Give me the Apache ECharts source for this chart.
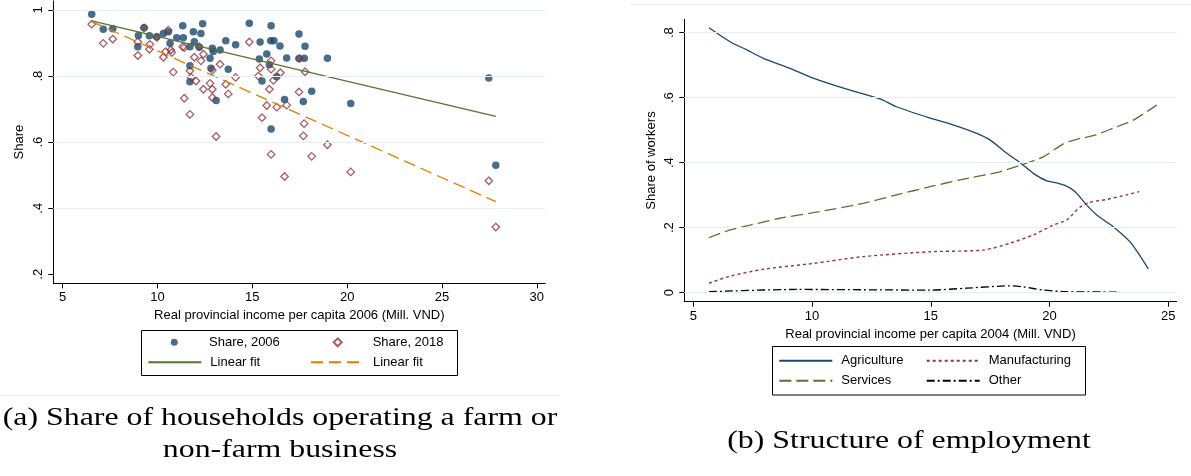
<!DOCTYPE html>
<html>
<head>
<meta charset="utf-8">
<script src="https://cdn.jsdelivr.net/npm/echarts@6/dist/echarts.min.js"></script>
<style>
  html, body { margin: 0; padding: 0; background: #fff; }
  #chart { width: 1191px; height: 476px; }
</style>
</head>
<body>
<div id="chart"></div>
<script>
// ---- Panel (a): share of households operating a farm or non-farm business ----
// [real provincial income per capita 2006 (Mill. VND), share]
const share2006 = [
  [6.53,0.987],[7.14,0.942],[7.64,0.943],[8.99,0.923],[8.96,0.889],[9.29,0.946],[9.57,0.922],
  [9.96,0.919],[10.31,0.929],[10.57,0.934],[10.66,0.899],[11.01,0.916],[11.33,0.952],[11.36,0.916],
  [11.89,0.934],[11.94,0.904],[12.29,0.929],[12.38,0.958],[11.71,0.889],[12.20,0.887],[12.89,0.884],
  [12.94,0.874],[13.30,0.879],[13.60,0.907],[14.12,0.895],[11.71,0.831],[11.71,0.783],[12.77,0.854],
  [12.82,0.824],[13.09,0.726],[13.73,0.821],[14.84,0.960],[15.41,0.903],[15.99,0.952],[15.97,0.907],
  [16.14,0.907],[15.76,0.867],[15.37,0.852],[15.90,0.834],[16.46,0.891],[16.81,0.855],[16.70,0.729],
  [15.51,0.785],[15.99,0.640],[16.28,0.798],[17.46,0.927],[17.46,0.853],[17.78,0.890],[17.74,0.854],
  [18.96,0.854],[18.13,0.754],[17.69,0.723],[20.19,0.717],[27.47,0.794],[27.84,0.530]
];
const share2018 = [
  [6.53,0.957],[7.14,0.899],[7.64,0.912],[8.96,0.904],[8.96,0.862],[9.29,0.946],[9.60,0.896],
  [9.57,0.881],[9.96,0.917],[10.31,0.857],[10.43,0.874],[10.57,0.939],[10.70,0.879],[10.75,0.871],
  [10.83,0.812],[11.33,0.889],[11.41,0.886],[11.41,0.733],[11.71,0.684],[11.71,0.816],[11.77,0.796],
  [11.94,0.857],[12.03,0.785],[12.20,0.889],[12.29,0.846],[12.42,0.866],[12.42,0.760],[12.77,0.778],
  [12.89,0.760],[12.89,0.735],[12.89,0.818],[13.09,0.617],[13.30,0.836],[13.60,0.775],[13.73,0.746],
  [14.12,0.796],[14.84,0.903],[15.41,0.825],[15.32,0.800],[15.51,0.674],[15.76,0.711],[15.90,0.760],
  [15.99,0.846],[15.99,0.821],[16.11,0.787],[16.48,0.810],[15.99,0.563],[16.70,0.496],[16.81,0.712],
  [16.29,0.706],[17.48,0.853],[17.78,0.813],[17.46,0.752],[17.73,0.656],[17.69,0.619],[18.96,0.592],
  [18.13,0.557],[20.19,0.510],[27.47,0.483],[27.84,0.343]
];
// fitted lines, end points
const fit2006 = [[6.53,0.967],[27.84,0.678]];
const fit2018 = [[6.53,0.965],[27.84,0.420]];

const incomeTicksA = [5,10,15,20,25,30];
const shareTicksA = [0.2,0.4,0.6,0.8,1];
const shareLabelsA = ['.2','.4','.6','.8','1'];
const gridLinesA = [0.4,0.6,0.8,1];

// ---- Panel (b): structure of employment ----
// [real provincial income per capita 2004 (Mill. VND), share of workers]
const agriculture = [
  [5.66,0.815],[6.55,0.772],[7.25,0.747],[7.95,0.721],[9.07,0.690],[10.05,0.660],[11.46,0.626],
  [12.86,0.596],[13.56,0.572],[14.97,0.537],[15.81,0.519],[16.93,0.490],[17.49,0.470],[18.20,0.429],
  [18.83,0.396],[19.32,0.367],[19.88,0.344],[20.30,0.338],[20.72,0.328],[21.07,0.311],[21.56,0.270],
  [21.99,0.239],[22.68,0.203],[23.38,0.157],[23.74,0.121],[24.16,0.073]
];
const services = [
  [5.66,0.169],[6.55,0.193],[7.39,0.208],[8.65,0.229],[10.05,0.246],[12.16,0.275],[13.56,0.301],
  [14.97,0.326],[16.23,0.347],[17.91,0.372],[18.89,0.395],[19.74,0.418],[20.58,0.458],[21.14,0.472],
  [21.84,0.483],[22.68,0.506],[23.53,0.531],[24.51,0.577]
];
const manufacturing = [
  [5.66,0.029],[6.55,0.051],[7.95,0.072],[10.05,0.090],[12.16,0.111],[14.97,0.126],[17.21,0.131],
  [18.33,0.152],[19.32,0.178],[20.16,0.208],[20.72,0.224],[21.28,0.263],[21.70,0.278],[22.41,0.287],
  [23.25,0.301],[23.78,0.311]
];
const other = [
  [5.66,0.003],[9.35,0.010],[14.97,0.008],[16.51,0.014],[18.33,0.021],[18.89,0.018],[19.74,0.008],
  [20.72,0.003],[22.96,0.002]
];

const incomeTicksB = [5,10,15,20,25];
const shareTicksB = [0,0.2,0.4,0.6,0.8];
const shareLabelsB = ['0','.2','.4','.6','.8'];
const gridLinesB = [0,0.2,0.4,0.6,0.8];

const SANS = 'Liberation Sans, Arial, sans-serif';
const SERIF = 'Liberation Serif, Times New Roman, serif';
const NAVY = '#1a476f', MAROON = '#90353b', GREEN = '#55752f', ORANGE = '#e37e00';
const GRID_COLOR = '#e6eeef';

function xAxisCfg(gridIndex, min, max, ticks, name) {
  return {
    type: 'value', gridIndex, min, max,
    axisLine: { show: true, onZero: false, lineStyle: { color: '#000', width: 1 } },
    axisTick: { show: true, length: 5, customValues: ticks, lineStyle: { color: '#000', width: 1 } },
    axisLabel: { customValues: ticks, fontSize: 13, color: '#000', fontFamily: SANS, margin: 8 },
    splitLine: { show: false },
    name, nameLocation: 'middle', nameGap: 23,
    nameTextStyle: { fontSize: 13, color: '#000', fontFamily: SANS }
  };
}
function yAxisCfg(gridIndex, min, max, ticks, labels, name, nameGap) {
  return {
    type: 'value', gridIndex, min, max,
    axisLine: { show: true, onZero: false, lineStyle: { color: '#000', width: 1 } },
    axisTick: { show: true, length: 5, customValues: ticks, lineStyle: { color: '#000', width: 1 } },
    axisLabel: {
      customValues: ticks, rotate: 90, fontSize: 13, color: '#000', fontFamily: SANS, margin: 8,
      formatter: v => { const i = ticks.findIndex(t => Math.abs(t - v) < 1e-9); return i >= 0 ? labels[i] : ''; }
    },
    splitLine: { show: false },
    name, nameLocation: 'middle', nameGap,
    nameTextStyle: { fontSize: 13, color: '#000', fontFamily: SANS }
  };
}
function gridSeries(xi, yi, values) {
  return {
    type: 'line', xAxisIndex: xi, yAxisIndex: yi, data: [], silent: true, z: 1,
    markLine: {
      silent: true, symbol: ['none', 'none'], label: { show: false },
      lineStyle: { color: GRID_COLOR, type: 'solid', width: 1.2 },
      data: values.map(v => ({ yAxis: v }))
    }
  };
}
function lineSeries(name, xi, yi, data, color, type, width) {
  return {
    name, type: 'line', xAxisIndex: xi, yAxisIndex: yi, data,
    showSymbol: false, symbol: 'none', smooth: 0.25, z: 4,
    lineStyle: { color, type, width }, itemStyle: { color }
  };
}
const legendText = { fontSize: 13, color: '#000', fontFamily: SANS };
// one legend entry per slot so that the 2 x 2 layout lines up in columns
function lineLegend(name, left, rowCenter) {
  return {
    data: [name], left, top: rowCenter - 7.5, padding: 0, selectedMode: false,
    itemWidth: 53, itemHeight: 14, itemStyle: { opacity: 0, borderWidth: 0 },
    formatter: n => n.indexOf('Linear fit') === 0 ? 'Linear fit' : n,
    textStyle: Object.assign({ padding: [0, 0, 0, 4] }, legendText)
  };
}
function markerLegend(name, icon, size, iconCenter, textLeft, rowCenter) {
  const left = iconCenter - size / 2;
  return {
    data: [{ name, icon }], left, top: rowCenter - 7.5, padding: 0, selectedMode: false,
    itemWidth: size, itemHeight: size,
    textStyle: Object.assign({ padding: [0, 0, 0, textLeft - (left + size + 5)] }, legendText)
  };
}

const chart = echarts.init(document.getElementById('chart'), null, { renderer: 'canvas' });
chart.setOption({
  backgroundColor: '#fff',
  animation: false,
  grid: [
    { left: 53.3, top: 1, width: 492, height: 282.3, containLabel: false, outerBoundsMode: 'none' },
    { left: 684.3, top: 19.3, width: 492.4, height: 282.4, containLabel: false, outerBoundsMode: 'none' }
  ],
  xAxis: [
    xAxisCfg(0, 4.504, 30.45, incomeTicksA, 'Real provincial income per capita 2006 (Mill. VND)'),
    xAxisCfg(1, 4.621, 25.354, incomeTicksB, 'Real provincial income per capita 2004 (Mill. VND)')
  ],
  yAxis: [
    yAxisCfg(0, 0.1728, 1.0272, shareTicksA, shareLabelsA, 'Share', 27),
    yAxisCfg(1, -0.0277, 0.841, shareTicksB, shareLabelsB, 'Share of workers', 26)
  ],
  legend: [
    markerLegend('Share, 2006', 'circle', 7, 174.3, 209, 343.3),
    markerLegend('Share, 2018', 'diamond', 8, 336.7, 371.7, 343.3),
    lineLegend('Linear fit 2006', 147.3, 363.3),
    lineLegend('Linear fit 2018', 310, 363.3),
    lineLegend('Agriculture', 778.3, 361.7),
    lineLegend('Manufacturing', 925.7, 361.7),
    lineLegend('Services', 778.3, 381.7),
    lineLegend('Other', 925.7, 381.7)
  ],
  series: [
    gridSeries(0, 0, gridLinesA),
    gridSeries(1, 1, gridLinesB),
    {
      name: 'Share, 2006', type: 'scatter', xAxisIndex: 0, yAxisIndex: 0, data: share2006,
      symbol: 'circle', symbolSize: 7.5, z: 2, itemStyle: { color: NAVY }
    },
    {
      name: 'Share, 2018', type: 'scatter', xAxisIndex: 0, yAxisIndex: 0, data: share2018,
      symbol: 'diamond', symbolSize: 7.5, z: 3,
      itemStyle: { color: 'rgba(255,255,255,0)', borderColor: MAROON, borderWidth: 1.3 }
    },
    lineSeries('Linear fit 2006', 0, 0, fit2006, GREEN, 'solid', 1.3),
    lineSeries('Linear fit 2018', 0, 0, fit2018, ORANGE, [12, 6], 1.3),
    lineSeries('Agriculture', 1, 1, agriculture, NAVY, 'solid', 1.3),
    lineSeries('Manufacturing', 1, 1, manufacturing, MAROON, [3, 3], 1.4),
    lineSeries('Services', 1, 1, services, GREEN, [12, 5], 1.3),
    lineSeries('Other', 1, 1, other, '#000', [8, 3, 2, 3], 1.3)
  ],
  graphic: [
    // outer panel frames
    { type: 'line', shape: { x1: 0, y1: 395.5, x2: 560, y2: 395.5 }, style: { stroke: '#eef1f2', lineWidth: 1 }, silent: true },
    { type: 'line', shape: { x1: 630, y1: 4.5, x2: 1191, y2: 4.5 }, style: { stroke: '#eef1f2', lineWidth: 1 }, silent: true },
    // legend boxes
    { type: 'rect', shape: { x: 141.5, y: 330.5, width: 316, height: 45 }, style: { fill: 'none', stroke: '#000', lineWidth: 1 }, silent: true },
    { type: 'rect', shape: { x: 772.5, y: 346.5, width: 313, height: 48.5 }, style: { fill: 'none', stroke: '#000', lineWidth: 1 }, silent: true },
    // captions (widened serif)
    { type: 'text', x: 280, y: 418, scaleX: 1.225, silent: true,
      style: { text: '(a) Share of households operating a farm or', font: '26px ' + SERIF, fill: '#000', textAlign: 'center', textVerticalAlign: 'middle' } },
    { type: 'text', x: 280, y: 450, scaleX: 1.225, silent: true,
      style: { text: 'non-farm business', font: '26px ' + SERIF, fill: '#000', textAlign: 'center', textVerticalAlign: 'middle' } },
    { type: 'text', x: 909, y: 441, scaleX: 1.225, silent: true,
      style: { text: '(b) Structure of employment', font: '26px ' + SERIF, fill: '#000', textAlign: 'center', textVerticalAlign: 'middle' } }
  ]
});
</script>
</body>
</html>
